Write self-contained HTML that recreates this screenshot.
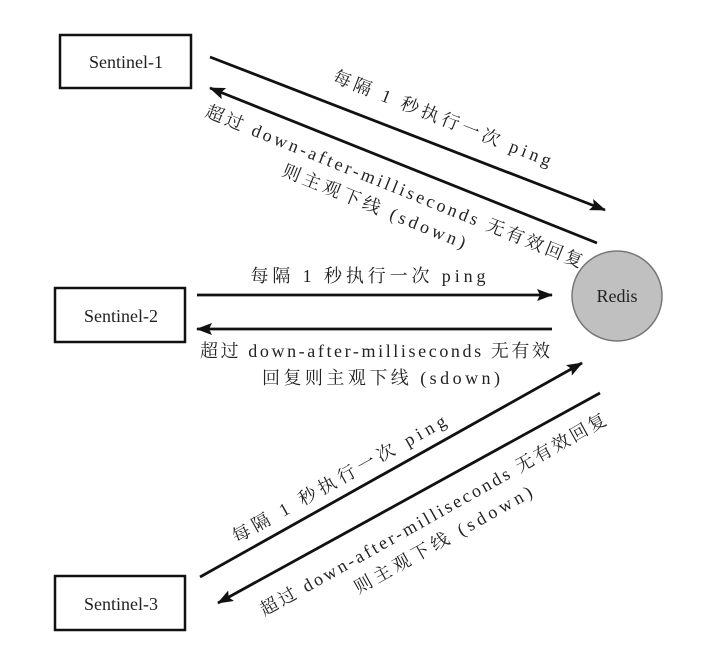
<!DOCTYPE html>
<html><head><meta charset="utf-8"><style>
html,body{margin:0;padding:0;background:#fff;}
svg{display:block;}
text{font-family:"Liberation Serif","Noto Serif CJK SC",serif;fill:#222;font-size:18px;}
</style></head><body>
<svg width="703" height="646" viewBox="0 0 703 646" xmlns="http://www.w3.org/2000/svg">
<defs>
<marker id="b" markerWidth="16" markerHeight="12" refX="15" refY="6" orient="auto" markerUnits="userSpaceOnUse" viewBox="0 0 16 12">
<path d="M0,0 L16,6 L0,12 L3,6 Z" fill="#111"/></marker>
</defs>
<g fill="none" stroke="#111" stroke-width="2.5">
<rect x="60" y="35" width="131" height="53"/>
<rect x="55" y="288" width="130" height="54"/>
<rect x="55" y="576" width="130" height="54"/>
</g>
<text x="126" y="68" text-anchor="middle">Sentinel-1</text>
<text x="121" y="322" text-anchor="middle">Sentinel-2</text>
<text x="121" y="610" text-anchor="middle">Sentinel-3</text>
<circle cx="617" cy="296" r="45" fill="#c0c0c0" stroke="#777" stroke-width="1.5"/>
<text x="617" y="302" text-anchor="middle">Redis</text>
<g stroke="#111" stroke-width="2.8" fill="none">
<line x1="210" y1="57" x2="605" y2="210" marker-end="url(#b)"/>
<line x1="597" y1="243" x2="210" y2="88" marker-end="url(#b)"/>
<line x1="197" y1="295" x2="552" y2="295" marker-end="url(#b)"/>
<line x1="552" y1="329" x2="197" y2="329" marker-end="url(#b)"/>
<line x1="200" y1="577" x2="582" y2="363" marker-end="url(#b)"/>
<line x1="600" y1="393" x2="218" y2="603" marker-end="url(#b)"/>
</g>
<text transform="translate(440,124) rotate(21.5)" text-anchor="middle" textLength="233" lengthAdjust="spacing">每隔 1 秒执行一次 ping</text>
<text transform="translate(392,192) rotate(22)" text-anchor="middle" textLength="405" lengthAdjust="spacing">超过 down-after-milliseconds 无有效回复</text>
<text transform="translate(372,212) rotate(22)" text-anchor="middle" textLength="196" lengthAdjust="spacing">则主观下线 (sdown)</text>
<text x="368" y="282" text-anchor="middle" textLength="235" lengthAdjust="spacing">每隔 1 秒执行一次 ping</text>
<text x="375" y="357" text-anchor="middle" textLength="350" lengthAdjust="spacing">超过 down-after-milliseconds 无有效</text>
<text x="381" y="384" text-anchor="middle" textLength="238" lengthAdjust="spacing">回复则主观下线 (sdown)</text>
<text transform="translate(342,484) rotate(-29.3)" text-anchor="middle" textLength="242" lengthAdjust="spacing">每隔 1 秒执行一次 ping</text>
<text transform="translate(436,520) rotate(-29.3)" text-anchor="middle" textLength="394" lengthAdjust="spacing">超过 down-after-milliseconds 无有效回复</text>
<text transform="translate(446,545) rotate(-29.3)" text-anchor="middle" textLength="201" lengthAdjust="spacing">则主观下线 (sdown)</text>
</svg>
</body></html>
